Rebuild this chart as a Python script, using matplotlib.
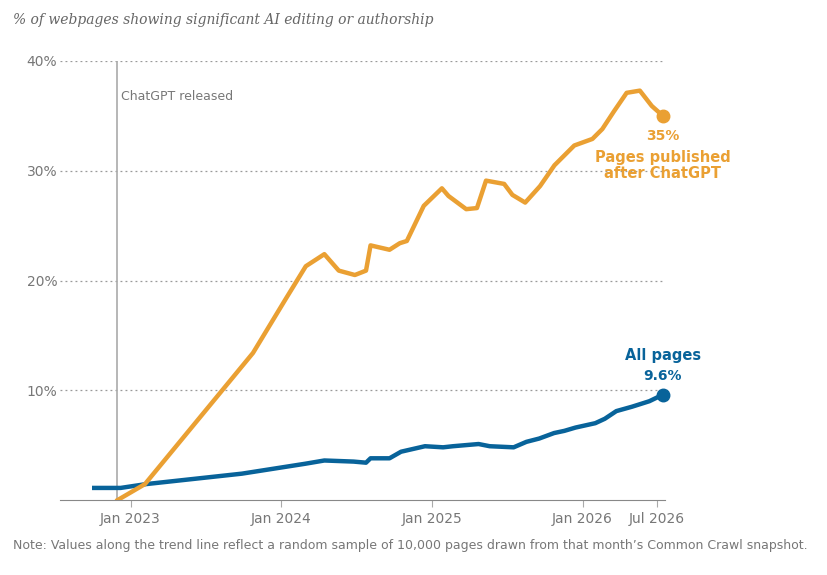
import matplotlib
matplotlib.use("Agg")
import matplotlib.pyplot as plt
import pandas as pd

# --- Data ---
after_dates = ["2022-12-01", "2023-02-05", "2023-10-25", "2024-01-12", "2024-03-01",
               "2024-04-15", "2024-05-20", "2024-06-28", "2024-07-25", "2024-08-05",
               "2024-09-20", "2024-10-15", "2024-11-01", "2024-12-12", "2025-01-25",
               "2025-02-10", "2025-03-25", "2025-04-20", "2025-05-12", "2025-06-25",
               "2025-07-15", "2025-08-15", "2025-09-20", "2025-10-25", "2025-12-12",
               "2026-01-25", "2026-02-18", "2026-03-18", "2026-04-18", "2026-05-20",
               "2026-06-18", "2026-07-15"]
after_vals = [0.0, 1.45, 13.4, 18.3, 21.3,
              22.4, 20.9, 20.5, 20.9, 23.2,
              22.8, 23.4, 23.6, 26.8, 28.4,
              27.7, 26.5, 26.6, 29.1, 28.8,
              27.8, 27.1, 28.6, 30.5, 32.3,
              32.9, 33.8, 35.4, 37.1, 37.3,
              35.9, 35.0]

all_dates = ["2022-10-05", "2022-12-08", "2023-02-08", "2023-09-28", "2024-02-28",
             "2024-04-15", "2024-06-25", "2024-07-25", "2024-08-05", "2024-09-20",
             "2024-10-18", "2024-12-15", "2025-01-28", "2025-02-21", "2025-04-24",
             "2025-05-21", "2025-07-18", "2025-08-18", "2025-09-18", "2025-10-24",
             "2025-11-18", "2025-12-15", "2026-02-01", "2026-02-24", "2026-03-24",
             "2026-05-01", "2026-06-12", "2026-07-15"]
all_vals = [1.1, 1.1, 1.45, 2.4, 3.3,
            3.6, 3.5, 3.4, 3.8, 3.8,
            4.4, 4.9, 4.8, 4.9, 5.1,
            4.9, 4.8, 5.3, 5.6, 6.1,
            6.3, 6.6, 7.0, 7.4, 8.1,
            8.5, 9.0, 9.6]

tick_dates = ["2023-01-01", "2024-01-01", "2025-01-01", "2026-01-01", "2026-07-01"]
tick_labels = ["Jan 2023", "Jan 2024", "Jan 2025", "Jan 2026", "Jul 2026"]
release_date = "2022-11-30"

ORANGE = "#EAA033"
BLUE = "#08639A"
GRAY = "#777777"

ad = pd.to_datetime(after_dates)
bd = pd.to_datetime(all_dates)

fig = plt.figure(figsize=(8.28, 5.75), dpi=100)
ax = fig.add_axes([60 / 828, 1 - 500 / 575, 605 / 828, 439 / 575])

ax.plot(bd, all_vals, color=BLUE, lw=3.2, solid_joinstyle="round", zorder=3)
ax.plot(ad, after_vals, color=ORANGE, lw=3.2, solid_joinstyle="round", zorder=3)
ax.plot(bd[-1], all_vals[-1], "o", color=BLUE, ms=9, zorder=4, clip_on=False)
ax.plot(ad[-1], after_vals[-1], "o", color=ORANGE, ms=9, zorder=4, clip_on=False)

ax.axvline(pd.Timestamp(release_date), color="#aaaaaa", lw=1.2, zorder=2)
ax.text(pd.Timestamp(release_date) + pd.Timedelta(days=8), 36.8, "ChatGPT released",
        color=GRAY, fontsize=9, va="center")

ax.set_xlim(pd.Timestamp("2022-07-14"), pd.Timestamp("2026-07-20"))
ax.set_ylim(0, 40)
ax.set_yticks([10, 20, 30, 40])
ax.set_yticklabels(["10%", "20%", "30%", "40%"])
ax.set_xticks(pd.to_datetime(tick_dates))
ax.set_xticklabels(tick_labels)
ax.grid(axis="y", linestyle=(0, (1.5, 2.5)), color="#999999", lw=0.9)
for s in ["left", "right", "top"]:
    ax.spines[s].set_visible(False)
ax.spines["bottom"].set_color("#888888")
ax.tick_params(axis="y", length=0, labelsize=10, colors=GRAY, pad=2)
ax.tick_params(axis="x", length=5, color="#aaaaaa", labelsize=10, colors=GRAY)

# end labels
ax.text(ad[-1], 33.2, "35%", color=ORANGE, fontsize=10, fontweight="bold", ha="center", va="center")
ax.text(ad[-1], 30.5, "Pages published\nafter ChatGPT", color=ORANGE, fontsize=10.5,
        fontweight="bold", ha="center", va="center", linespacing=1.1)
ax.text(bd[-1], 13.2, "All pages", color=BLUE, fontsize=10.5,
        fontweight="bold", ha="center", va="center")
ax.text(bd[-1], 11.3, "9.6%", color=BLUE, fontsize=10,
        fontweight="bold", ha="center", va="center")

fig.text(13 / 828, 1 - 20 / 575, "% of webpages showing significant AI editing or authorship",
         fontsize=10, style="italic", family="DejaVu Serif", color="#666666", va="center")
fig.text(13 / 828, 1 - 545 / 575,
         "Note: Values along the trend line reflect a random sample of 10,000 pages drawn from that month\u2019s Common Crawl snapshot.",
         fontsize=9, color=GRAY, va="center")

fig.savefig("out.png", dpi=100)
